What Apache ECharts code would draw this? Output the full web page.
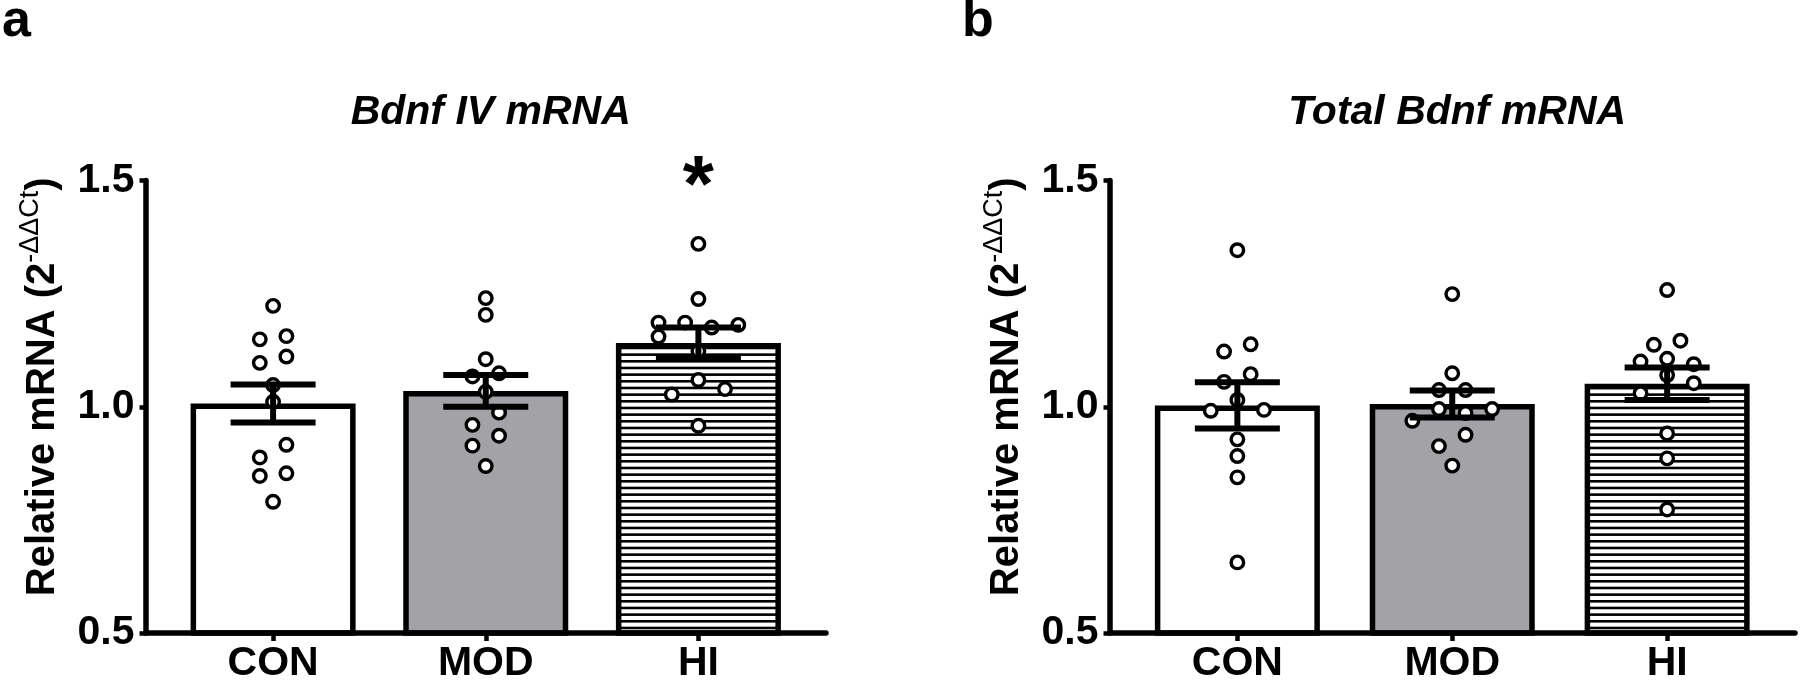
<!DOCTYPE html>
<html><head><meta charset="utf-8">
<script src="https://cdn.jsdelivr.net/npm/echarts@6/dist/echarts.min.js"></script>
<style>html,body{margin:0;padding:0;background:#fff}#c{width:1800px;height:688px}</style>
</head><body><div id="c"></div>
<script>
// ---------------- data ----------------
const categories = ['CON', 'MOD', 'HI'];
const yTickValues = [0.5, 1.0, 1.5];
const panelTitles = ['Bdnf IV mRNA', 'Total Bdnf mRNA'];
const panelLetters = ['a', 'b'];

// Panel a : Bdnf IV mRNA
const a_means = [1.007, 1.035, 1.141];
const a_sem   = [0.042, 0.035, 0.034];
const a_CON = [1.223, 1.149, 1.156, 1.097, 1.111, 1.048, 1.011, 0.916, 0.888, 0.847, 0.853, 0.790];
const a_MOD = [1.240, 1.203, 1.105, 1.067, 1.074, 1.033, 0.987, 0.960, 0.936, 0.914, 0.869];
const a_HI  = [1.360, 1.238, 1.186, 1.186, 1.175, 1.181, 1.155, 1.123, 1.059, 1.027, 1.039, 0.958];
// horizontal spread of the dots, in dot-steps
const a_CON_spread = [0, -1, 1, -1, 1, 0, 0, 1, -1, -1, 1, 0];
const a_MOD_spread = [0, 0, 0, -1, 1, 0, 1, -1, 1, -1, 0];
const a_HI_spread  = [0, 0, -3, -1, 1, 3, -3, 0, 0, -2, 2, 0];
const a_significance = ['', '', '*'];

// Panel b : Total Bdnf mRNA
const b_means = [1.003, 1.006, 1.051];
const b_sem   = [0.051, 0.030, 0.036];
const b_CON = [1.346, 1.122, 1.138, 1.055, 1.072, 1.015, 0.991, 0.993, 0.928, 0.891, 0.844, 0.656];
const b_MOD = [1.249, 1.074, 1.037, 1.037, 0.995, 0.986, 0.995, 0.969, 0.938, 0.913, 0.870];
const b_HI  = [1.258, 1.137, 1.146, 1.100, 1.106, 1.094, 1.070, 1.052, 1.030, 0.941, 0.886, 0.773];
const b_CON_spread = [0, -1, 1, -1, 1, 0, -2, 2, 0, 0, 0, 0];
const b_MOD_spread = [0, 0, -1, 1, -1, 1, 3, -3, 1, -1, 0];
const b_HI_spread  = [0, -1, 1, -2, 0, 2, 0, 2, -2, 0, 0, 0];
const b_significance = ['', '', ''];

// ---------------- styling ----------------
const FONT = '"Liberation Sans", Arial, Helvetica, sans-serif';
const GREY = '#a3a2a7';
const LW = 5.5;
const EB_W = 6;
const BAR_W = 165;
const CAP_HALF = 42.5;
const DOT_STEP_PX = 13.3;

const stripe = document.createElement('canvas');
stripe.width = 8; stripe.height = 20;
(function(){
  const g = stripe.getContext('2d');
  g.fillStyle = '#fff'; g.fillRect(0, 0, 8, 20);
  g.fillStyle = '#000';
  for (let k = 0; k < 3; k++) g.fillRect(0, k * 20 / 3, 8, 2.6);
})();
const barFills = ['#ffffff', GREY, { image: stripe, repeat: 'repeat' }];

const panels = [
  { left: 145.5, width: 680.5, xmin: -0.6, xmax: 2.6, means: a_means, sem: a_sem,
    groups: [a_CON, a_MOD, a_HI], spreads: [a_CON_spread, a_MOD_spread, a_HI_spread], sig: a_significance },
  { left: 1109.5, width: 685.5, xmin: -0.595, xmax: 2.595, means: b_means, sem: b_sem,
    groups: [b_CON, b_MOD, b_HI], spreads: [b_CON_spread, b_MOD_spread, b_HI_spread], sig: b_significance }
];
const GRID_TOP = 180.5, GRID_H = 452.5;

const grids = [], xAxes = [], yAxes = [], series = [], titles = [];
panels.forEach((p, pi) => {
  grids.push({ left: p.left, top: GRID_TOP, width: p.width, height: GRID_H, containLabel: false });
  const spacing = p.width / (p.xmax - p.xmin);
  const step = DOT_STEP_PX / spacing;
  xAxes.push({
    type: 'value', gridIndex: pi, min: p.xmin, max: p.xmax, z: 10,
    axisLine: { show: true, onZero: false, lineStyle: { color: '#000', width: LW } },
    axisTick: { show: true, customValues: [0, 1, 2], length: 8, lineStyle: { color: '#000', width: 4.5 } },
    axisLabel: { show: true, customValues: [0, 1, 2], formatter: v => categories[Math.round(v)] || '',
      margin: 10, color: '#000', fontFamily: FONT, fontWeight: 'bold', fontSize: 41 },
    splitLine: { show: false }
  });
  yAxes.push({
    type: 'value', gridIndex: pi, min: 0.5, max: 1.5, interval: 0.5, z: 10,
    axisLine: { show: true, onZero: false, lineStyle: { color: '#000', width: LW } },
    axisTick: { show: true, length: 6, lineStyle: { color: '#000', width: 4.5 } },
    axisLabel: { show: true, margin: 11, color: '#000', fontFamily: FONT, fontWeight: 'bold', fontSize: 41,
      formatter: v => yTickValues.indexOf(v) >= 0 ? v.toFixed(1) : '' },
    splitLine: { show: false },
    name: '{m|Relative mRNA (2}{s|-ΔΔCt}{m|)}',
    nameLocation: 'middle', nameRotate: 90, nameGap: 78,
    nameTextStyle: {
      padding: [0, 0, 0, 40],
      rich: {
        m: { fontFamily: FONT, fontWeight: 'bold', fontSize: 40, color: '#000', lineHeight: 50 },
        s: { fontFamily: FONT, fontWeight: 'normal', fontSize: 27, color: '#000', verticalAlign: 'top', lineHeight: 21 }
      }
    }
  });
  // bars
  series.push({
    type: 'bar', xAxisIndex: pi, yAxisIndex: pi, barWidth: BAR_W, z: 2,
    data: p.means.map((m, i) => ({ value: [i, m],
      itemStyle: { color: barFills[i], borderColor: '#000', borderWidth: LW } })),
    animation: false
  });
  // dots
  p.groups.forEach((g, gi) => {
    series.push({
      type: 'scatter', xAxisIndex: pi, yAxisIndex: pi, z: 3, symbol: 'circle', symbolSize: 12.5,
      itemStyle: { color: '#fff', borderColor: '#000', borderWidth: 3.4, opacity: 1 },
      data: g.map((v, k) => [gi + p.spreads[gi][k] * step, v]),
      animation: false
    });
  });
  // error bars + significance
  series.push({
    type: 'custom', xAxisIndex: pi, yAxisIndex: pi, z: 4, clip: false,
    data: p.means.map((m, i) => [i, m, p.sem[i]]),
    renderItem: (params, api) => {
      const x = api.value(0), m = api.value(1), s = api.value(2);
      const t = api.coord([x, m + s]), b = api.coord([x, m - s]);
      const st = { stroke: '#000', lineWidth: EB_W };
      const ch = [
        { type: 'line', shape: { x1: t[0], y1: t[1], x2: b[0], y2: b[1] }, style: st },
        { type: 'line', shape: { x1: t[0] - CAP_HALF, y1: t[1], x2: t[0] + CAP_HALF, y2: t[1] }, style: st },
        { type: 'line', shape: { x1: b[0] - CAP_HALF, y1: b[1], x2: b[0] + CAP_HALF, y2: b[1] }, style: st }
      ];
      const mark = p.sig[params.dataIndex];
      if (mark) {
        const top = api.coord([x, 1.5]);
        ch.push({ type: 'text', style: { text: mark, x: top[0], y: top[1] + 8, align: 'center', verticalAlign: 'middle',
          font: 'bold 80px ' + FONT, fill: '#000' } });
      }
      return { type: 'group', children: ch };
    },
    animation: false
  });
  const midX = p.left + (1 - p.xmin) * spacing;
  titles.push({ text: panelTitles[pi], left: midX, top: 87, textAlign: 'center',
    textStyle: { fontFamily: FONT, fontStyle: 'italic', fontWeight: 'bold', fontSize: 41, color: '#000' } });
});
titles.push({ text: panelLetters[0], left: -3, top: -9, textStyle: { fontFamily: FONT, fontWeight: 'bold', fontSize: 52, color: '#000' } });
titles.push({ text: panelLetters[1], left: 957, top: -9, textStyle: { fontFamily: FONT, fontWeight: 'bold', fontSize: 52, color: '#000' } });

const chart = echarts.init(document.getElementById('c'), null, { renderer: 'canvas' });
chart.setOption({ backgroundColor: '#fff', animation: false, title: titles, grid: grids, xAxis: xAxes, yAxis: yAxes, series: series });
</script></body></html>
